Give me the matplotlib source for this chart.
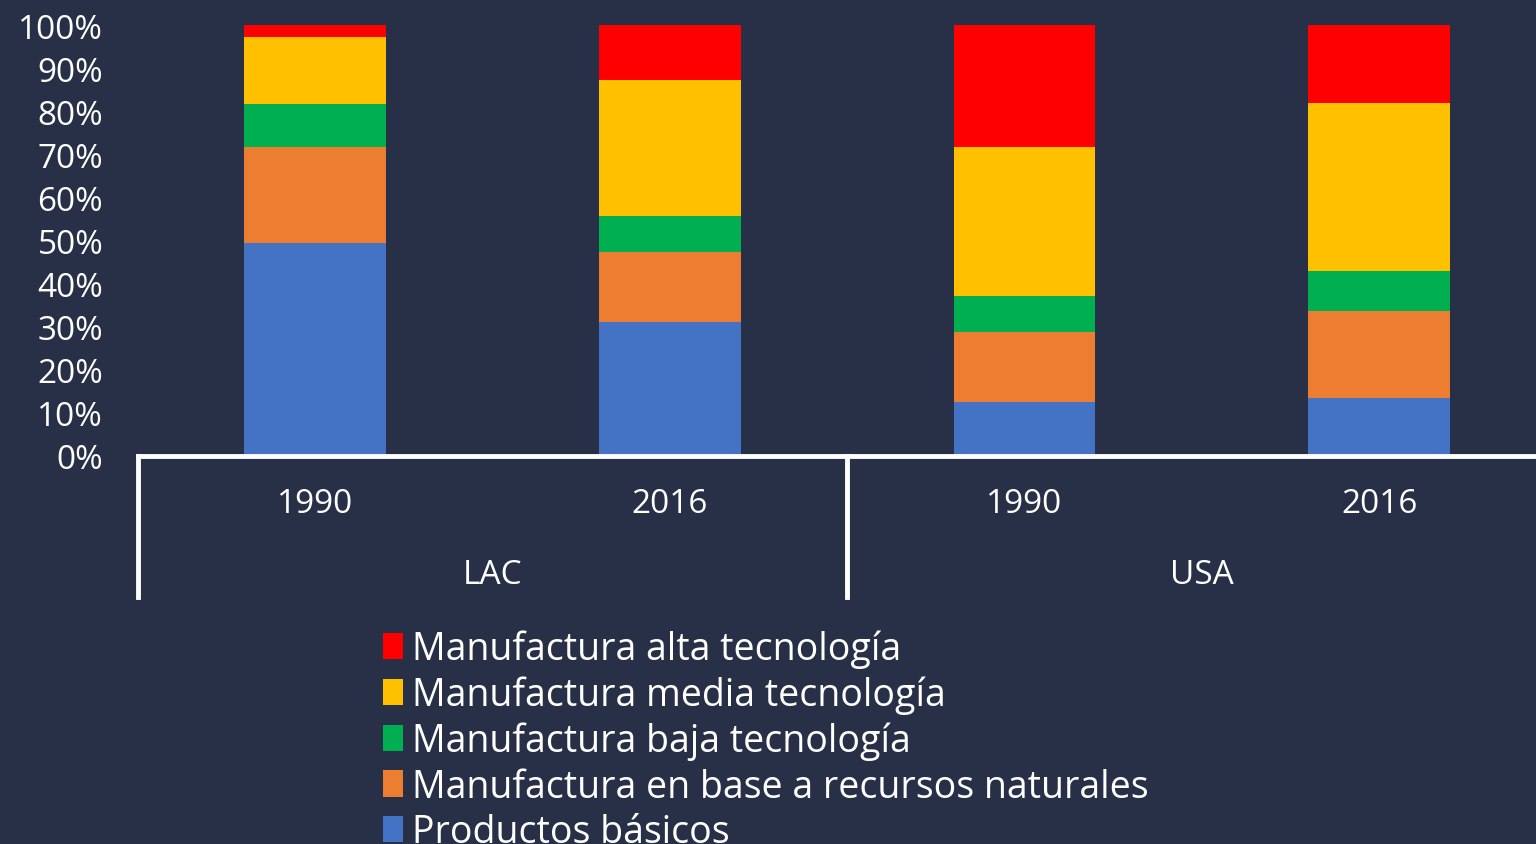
import matplotlib.pyplot as plt
from matplotlib.patches import Patch

# shares of exports (%)
years = ["1990", "2016", "1990", "2016"]
regions = ["LAC", "USA"]
basicos = [49.5, 31.2, 12.6, 13.5]
recursos = [22.1, 16.2, 16.2, 20.2]
baja = [10.0, 8.4, 8.4, 9.3]
media = [15.6, 31.4, 34.4, 38.9]
alta = [2.8, 12.8, 28.4, 18.1]

labels = ["Productos básicos", "Manufactura en base a recursos naturales",
          "Manufactura baja tecnología", "Manufactura media tecnología",
          "Manufactura alta tecnología"]
colors = ["#4472C4", "#ED7D31", "#00B050", "#FFC000", "#FF0000"]

bg = "#283048"
plt.rcParams["font.family"] = ["Open Sans", "DejaVu Sans"]
plt.rcParams["font.size"] = 24

fig = plt.figure(figsize=(15.36, 8.45), dpi=100, facecolor=bg)
ax = fig.add_axes([0.0898, 0.4592, 0.9235, 0.5100])
ax.set_facecolor(bg)

x = list(range(len(years)))
bottom = [0.0] * len(years)
for vals, col in zip([basicos, recursos, baja, media, alta], colors):
    ax.bar(x, vals, width=0.4, bottom=bottom, color=col)
    bottom = [b + v for b, v in zip(bottom, vals)]

ax.set_xlim(-0.5, 3.5)
ax.set_ylim(0, 100)
ax.set_yticks(range(0, 101, 10))
ax.set_yticklabels([f"{v}%" for v in range(0, 101, 10)], color="white")
ax.tick_params(axis="y", length=0, pad=25)
ax.set_xticks([])
for s in ["top", "right", "left"]:
    ax.spines[s].set_visible(False)
ax.spines["bottom"].set_color("white")
ax.spines["bottom"].set_linewidth(3.5)

trans = ax.get_xaxis_transform()
for i, yr in enumerate(years):
    ax.text(i, -0.11, yr, transform=trans, ha="center", va="center", color="white")
for j, reg in enumerate(regions):
    ax.text(2 * j + 0.5, -0.275, reg, transform=trans, ha="center", va="center", color="white")
for xs in [-0.5, 1.5, 3.5]:
    ax.plot([xs, xs], [0, -0.327], transform=trans, color="white", lw=3.5, clip_on=False)

handles = [Patch(facecolor=c) for c in colors[::-1]]
leg = fig.legend(handles, labels[::-1], loc="upper left", bbox_to_anchor=(0.2495, 0.254),
                 frameon=False, handlelength=0.52, handleheight=0.72, handletextpad=0.25,
                 labelspacing=0.2, borderaxespad=0, borderpad=0, fontsize=27)
for t in leg.get_texts():
    t.set_color("white")

fig.savefig("out.png", dpi=100, facecolor=bg)
